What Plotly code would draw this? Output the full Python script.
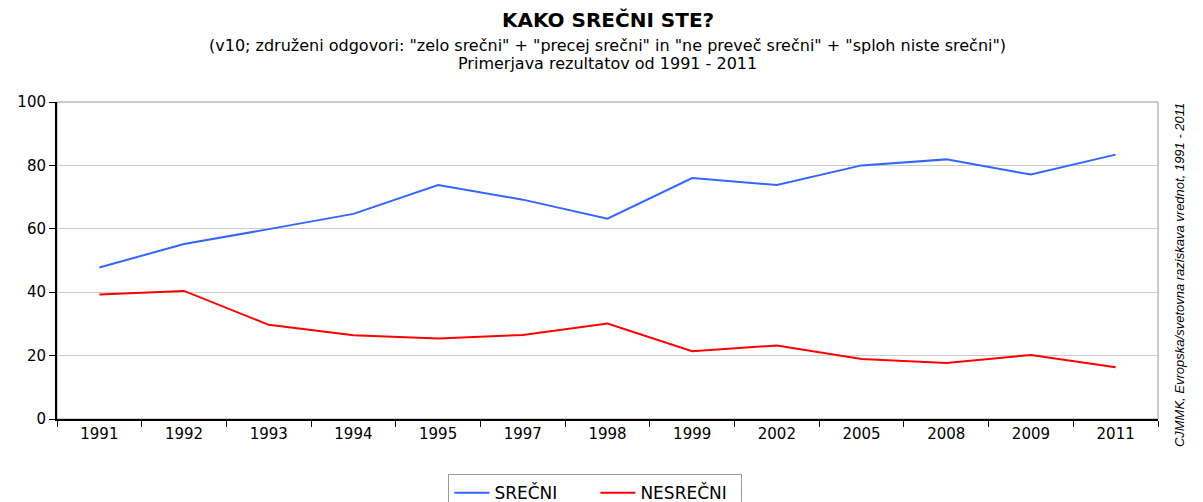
import plotly.graph_objects as go

years = ['1991', '1992', '1993', '1994', '1995', '1997', '1998',
         '1999', '2002', '2005', '2008', '2009', '2011']
srecni = [47.8, 55.2, 59.9, 64.7, 73.8, 69.2, 63.2, 76.0, 73.8, 80.0, 81.9, 77.1, 83.4]
nesrecni = [39.3, 40.4, 29.7, 26.4, 25.4, 26.5, 30.1, 21.4, 23.2, 18.9, 17.7, 20.2, 16.3]

fig = go.Figure()
fig.add_trace(go.Scatter(x=years, y=srecni, mode='lines', name='SREČNI',
                         line=dict(color='#3366ff', width=2)))
fig.add_trace(go.Scatter(x=years, y=nesrecni, mode='lines', name='NESREČNI',
                         line=dict(color='#ff0000', width=2)))

# gray frame on top/right, black axes on left/bottom
fig.add_shape(type='rect', xref='paper', yref='paper', x0=0, y0=0, x1=1, y1=1,
              line=dict(color='#999999', width=1), layer='below')

fig.update_layout(
    width=1195, height=494,
    margin=dict(l=49, r=45, t=94, b=83, autoexpand=False),
    paper_bgcolor='white', plot_bgcolor='white',
    font=dict(family='DejaVu Sans, Verdana, sans-serif', color='black'),
    showlegend=True,
    legend=dict(orientation='h', x=0.489, xanchor='center', y=-0.174, yanchor='top',
                bordercolor='#999999', borderwidth=1,
                font=dict(family='DejaVu Sans, Verdana, sans-serif', size=17),
                itemwidth=35, entrywidth=96, tracegroupgap=0),
    xaxis=dict(type='category', range=[-0.5, 12.5], tickson='boundaries',
               ticks='outside', ticklen=6, tickcolor='black',
               showline=True, linecolor='black', linewidth=2,
               showgrid=False, tickfont=dict(size=15)),
    yaxis=dict(range=[0, 100], dtick=20, ticks='outside', ticklen=6,
               tickcolor='black', showline=True, linecolor='black', linewidth=2,
               showgrid=True, gridcolor='#cccccc', gridwidth=1,
               tickfont=dict(size=15), zeroline=False),
)

title_font = dict(family='DejaVu Sans, Verdana, sans-serif', size=20)
sub_font = dict(family='DejaVu Sans, Verdana, sans-serif', size=16)
fig.add_annotation(text='<b>KAKO SREČNI STE?</b>', xref='paper', yref='paper',
                   x=0.5, y=1, yshift=82, yanchor='middle', showarrow=False,
                   font=title_font)
fig.add_annotation(text='(v10; združeni odgovori: "zelo srečni" + "precej srečni" in "ne preveč srečni" + "sploh niste srečni")',
                   xref='paper', yref='paper', x=0.5, y=1, yshift=57, yanchor='middle',
                   showarrow=False, font=sub_font)
fig.add_annotation(text='Primerjava rezultatov od 1991 - 2011',
                   xref='paper', yref='paper', x=0.5, y=1, yshift=39, yanchor='middle',
                   showarrow=False, font=sub_font)
fig.add_annotation(text='<i>CJMMK, Evropska/svetovna raziskava vrednot, 1991 - 2011</i>',
                   xref='paper', yref='paper', x=1.028, y=0.455, textangle=-90,
                   showarrow=False,
                   font=dict(family='Liberation Sans, Arial, sans-serif', size=13))

fig.write_html('out.html')
